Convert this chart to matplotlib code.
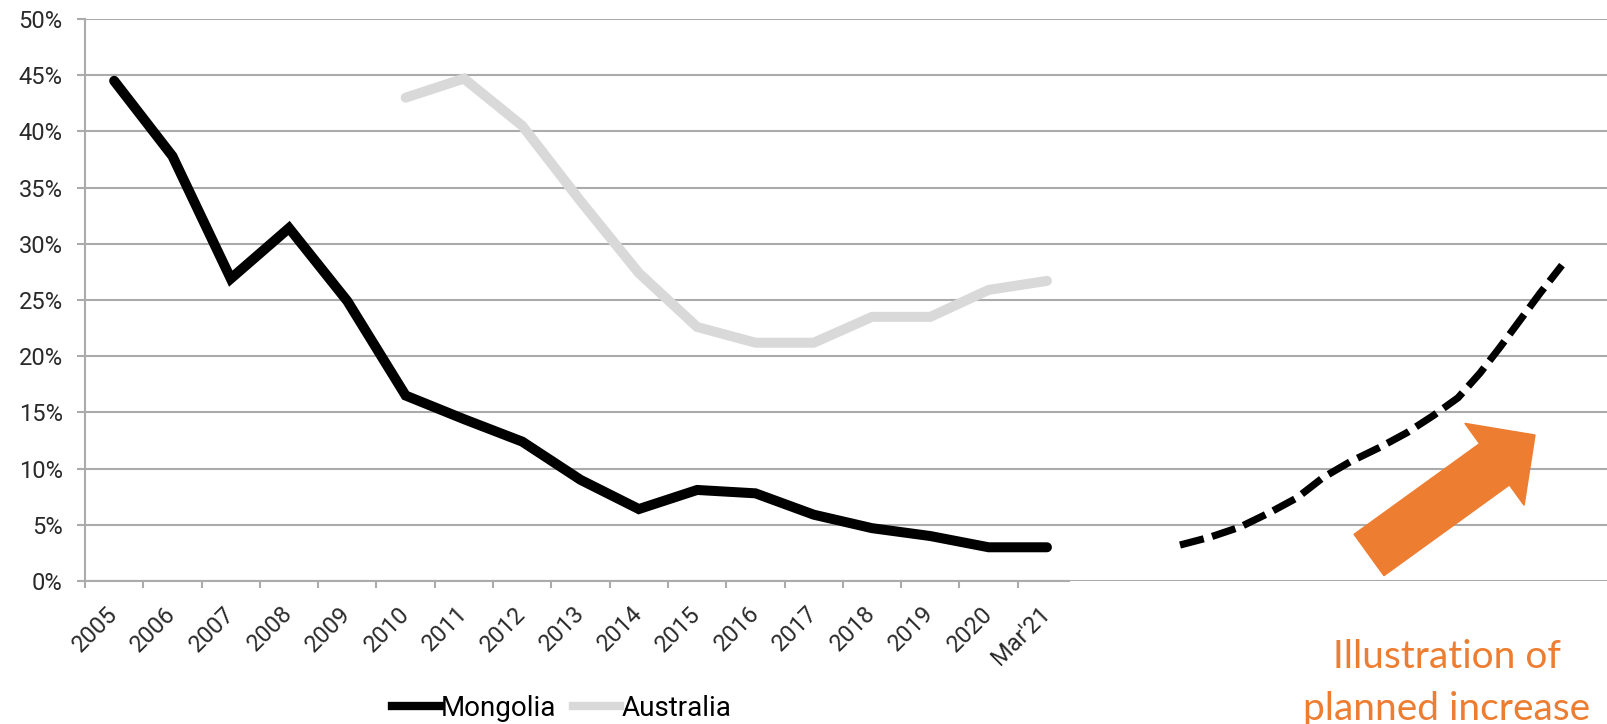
import matplotlib
matplotlib.use("Agg")
import matplotlib.pyplot as plt
import matplotlib.patches as mpatches
from matplotlib.lines import Line2D
import numpy as np

categories = ["2005", "2006", "2007", "2008", "2009", "2010", "2011", "2012",
              "2013", "2014", "2015", "2016", "2017", "2018", "2019", "2020", "Mar'21"]
mongolia = [44.5, 37.8, 26.9, 31.4, 24.9, 16.5, 14.4, 12.4, 9.0, 6.4, 8.1, 7.8,
            5.9, 4.7, 4.0, 3.0, 3.0]
australia = [None, None, None, None, None, 43.0, 44.7, 40.5, 33.8, 27.4, 22.6,
             21.2, 21.2, 23.5, 23.5, 25.9, 26.7]
y_ticks = [0, 5, 10, 15, 20, 25, 30, 35, 40, 45, 50]
y_tick_labels = [f"{v}%" for v in y_ticks]

# illustrative projection (right panel), position along panel and level in %
proj_x = [111, 141, 171, 201, 228, 254, 281, 311, 338, 364, 389, 411, 431, 451, 471, 493]
proj_y = [3.2, 3.9, 4.8, 6.1, 7.4, 9.2, 10.6, 11.9, 13.2, 14.7, 16.3, 18.5,
          20.8, 23.2, 25.6, 28.1]

W, H = 1608, 724
DPI = 100
fig = plt.figure(figsize=(W / DPI, H / DPI), dpi=DPI)
fig.patch.set_facecolor("white")

grid_c = "#ABABAB"
txt_c = "#2A2A2A"
font = "Roboto"

ax_left, ax_right_px = 85, 1069
ax_top, ax_bot = 19, 581
ax = fig.add_axes([ax_left / W, 1 - ax_bot / H, (ax_right_px - ax_left) / W, (ax_bot - ax_top) / H])
ax2 = fig.add_axes([ax_right_px / W, 1 - ax_bot / H, (W - ax_right_px) / W, (ax_bot - ax_top) / H])

n = len(categories)
x = np.arange(n)
step = 58.3
ax.set_xlim(-0.5, -0.5 + (ax_right_px - ax_left) / step)
ax.set_ylim(0, 50)

ax.plot(x, mongolia, color="black", lw=7.2, solid_capstyle="round",
        solid_joinstyle="miter", zorder=3, label="Mongolia")
aus = np.array([np.nan if v is None else v for v in australia], dtype=float)
ax.plot(x, aus, color="#D9D9D9", lw=7.2, solid_capstyle="round",
        solid_joinstyle="miter", zorder=2, label="Australia")

ax.set_yticks(y_ticks)
ax.set_yticklabels(y_tick_labels, fontfamily=font, fontsize=17, color=txt_c)
ax.yaxis.grid(True, color=grid_c, lw=1.5)
ax.set_axisbelow(True)
ax.tick_params(axis="y", length=6, width=1.5, color=grid_c, pad=10)

ax.set_xticks(x)
ax.set_xticklabels(categories, fontfamily=font, fontsize=17, color=txt_c,
                   rotation=45, ha="right", va="center", rotation_mode="anchor")
ax.set_xticks(np.arange(n) - 0.5, minor=True)
ax.tick_params(axis="x", which="major", length=0, pad=21)
ax.tick_params(axis="x", which="minor", length=5, width=1.5, color=grid_c)
for s in ["top", "right"]:
    ax.spines[s].set_visible(False)
for s in ["left", "bottom"]:
    ax.spines[s].set_color(grid_c)
    ax.spines[s].set_linewidth(1.5)

# right illustrative panel
ax2.set_xlim(0, W - ax_right_px)
ax2.set_ylim(0, 50)
ax2.set_yticks(y_ticks)
ax2.yaxis.grid(True, color=grid_c, lw=1.5)
ax2.set_axisbelow(True)
ax2.tick_params(left=False, bottom=False, labelleft=False, labelbottom=False)
for s in ax2.spines.values():
    s.set_visible(False)
ax2.plot(proj_x, proj_y, color="black", lw=5.2, dashes=(3.4, 1.2), zorder=3)

# orange arrow (in inches, preserves aspect)
arrow = mpatches.FancyArrow(13.69, (H - 555) / DPI, 1.66, 1.20, width=0.51,
                            head_width=1.01, head_length=0.50,
                            length_includes_head=True, color="#ED7D31",
                            transform=fig.dpi_scale_trans, zorder=5)
fig.patches.append(arrow)

fig.text(1447 / W, 1 - 668 / H, "Illustration of", color="#ED7D31",
         fontsize=28, fontfamily="Lato", ha="center", va="baseline")
fig.text(1447 / W, 1 - 720 / H, "planned increase", color="#ED7D31",
         fontsize=28, fontfamily="Lato", ha="center", va="baseline")

handles = [Line2D([], [], color="black", lw=6), Line2D([], [], color="#D9D9D9", lw=6)]
fig.legend(handles, ["Mongolia", "Australia"], loc="center",
           bbox_to_anchor=(562 / W, 1 - 708 / H), ncol=2, frameon=False,
           prop={"family": font, "size": 20}, handlelength=1.7,
           handletextpad=0.05, columnspacing=0.6, labelcolor="black")

fig.savefig("out.png", dpi=DPI, facecolor="white")
